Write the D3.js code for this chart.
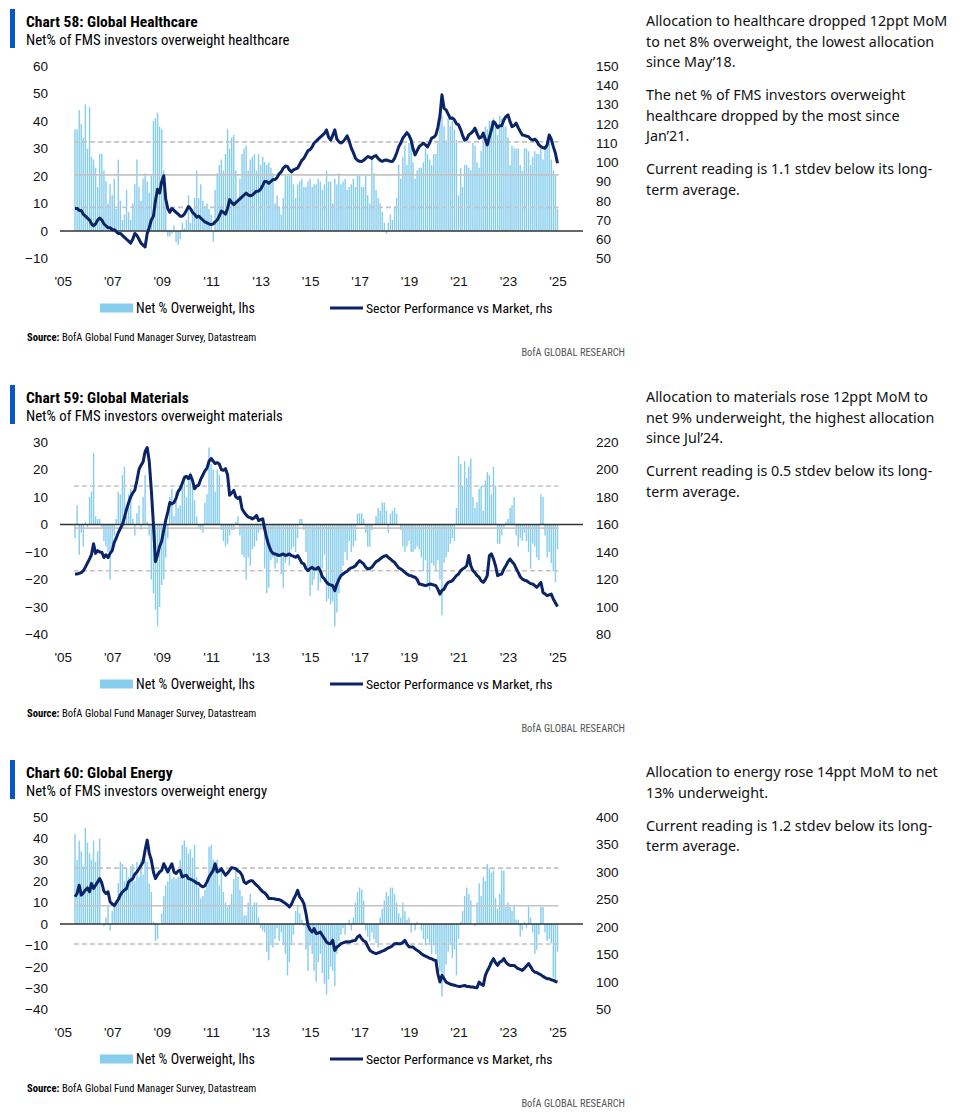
<!DOCTYPE html>
<html>
<head>
<meta charset="utf-8">
<title>FMS sector allocation</title>
<script src="https://cdn.jsdelivr.net/npm/d3@7"></script>
<style>
  body { margin: 0; background: #fff; }
</style>
</head>
<body>
<div id="charts"></div>
<script>
(function(){
  'use strict';

  // one value per month, Jul 2005 .. Jan 2025
  var firstMonth = new Date(2005, 6, 1);
  var yearTicks = [2005, 2007, 2009, 2011, 2013, 2015, 2017, 2019, 2021, 2023, 2025];

  // ---- Chart 58: healthcare
  var hcNet = [
    37, 37, 44, 39, 34, 46,
    30, 45, 27, 26, 23, 16, 28, 28, 22, 18, 10, 17,
    13, 19, 8, 26, 11, 4, 6, 15, 7, 4, 10, 17,
    26, 16, 11, 19, 21, 18, 14, 20, 40, 41, 43, 38,
    37, 22, 10, -2, -2, -1, 2, -4, -5, -3, 3, 1,
    4, 13, 3, 8, 12, 22, 12, 17, 11, 9, 10, 8,
    6, -4, 15, 21, 24, 26, 22, 28, 37, 30, 34, 35,
    22, 12, 19, 28, 30, 31, 22, 26, 27, 28, 22, 28,
    24, 27, 25, 24, 25, 23, 21, 10, 13, 9, 6, 12,
    20, 20, 20, 21, 17, 12, 17, 18, 19, 16, 16, 18,
    19, 16, 17, 17, 19, 18, 15, 17, 22, 18, 18, 10,
    19, 17, 21, 17, 18, 19, 15, 16, 17, 19, 16, 20,
    20, 16, 16, 20, 13, 10, 26, 21, 15, 12, 10, 7,
    3, -1, 3, 6, 4, 9, 12, 24, 19, 27, 31, 24,
    32, 33, 25, 19, 22, 23, 23, 25, 30, 28, 26, 24,
    28, 28, 33, 42, 42, 38, 33, 41, 38, 40, 37, 33,
    13, 23, 16, 24, 24, 23, 22, 32, 31, 25, 23, 29,
    36, 38, 37, 40, 40, 41, 40, 35, 42, 41, 38, 38,
    34, 24, 31, 30, 30, 30, 24, 22, 30, 30, 29, 24,
    27, 29, 28, 28, 31, 26, 30, 31, 32, 26, 22, 20,
    8
  ];
  var hcPerf = [
    76, 76, 75, 75, 73, 72, 71, 70, 68, 67, 68, 70,
    71, 70, 68, 67, 66, 66, 65, 65, 64, 63, 63, 62,
    61, 60, 59, 58, 60, 63, 62, 60, 58, 57, 56, 63,
    66, 70, 72, 80, 86, 84, 90, 93, 81, 76, 74, 76,
    75, 74, 73, 72, 72, 73, 75, 77, 76, 74, 73, 71.5,
    72, 71, 70, 69, 68.5, 68, 67.6, 68, 69, 70, 72, 74.7,
    74, 73, 76, 80.6, 79, 78, 79, 80, 81, 82, 83, 84,
    83, 82.6, 83, 84, 85, 85, 86, 88, 90, 90, 89, 90,
    91, 91, 92, 94, 95, 97, 98, 97.8, 96, 95, 96, 96.5,
    97, 99, 101, 102, 104, 106, 106.5, 108, 110, 111, 112, 113,
    114, 115, 116.8, 113, 111.5, 114, 116.8, 112, 110.7, 110, 110.7, 112,
    113.7, 111, 107.3, 105, 102.1, 101, 100.5, 100.4, 101, 102, 103, 102.5,
    102, 103, 103.5, 102, 101, 100.5, 101, 101.2, 100.8, 100.5, 100.4, 102,
    104.7, 108, 110, 112.5, 114, 115.4, 114, 111.5, 107, 103.8, 106, 108.2,
    109, 109.9, 109, 108, 110, 112.5, 113, 114.2, 118, 124, 135, 128,
    127.2, 125, 122.8, 123, 122, 120, 119.4, 117, 114, 111.5, 112, 114.2,
    115, 116, 117.7, 115, 112.5, 113, 115.1, 112, 109, 113, 116.8, 121.1,
    120, 118, 119, 119, 122, 123.7, 124.6, 121, 118.5, 119, 120.3, 118,
    116, 114.2, 114, 113.5, 113.3, 112, 111.5, 112, 111, 109, 108.2, 107.5,
    107.3, 109, 114.2, 112, 108, 104.7, 99.5
  ];
  var hcLeftTicks = [-10, 0, 10, 20, 30, 40, 50, 60];
  var hcRightTicks = [50, 60, 70, 80, 90, 100, 110, 120, 130, 140, 150];
  var hcBands = [8.6, 20.4, 32.4]; // -1 sd, average, +1 sd
  var hcNotes = [
    ['Allocation to healthcare dropped 12ppt MoM', 'to net 8% overweight, the lowest allocation', 'since May\u201918.'],
    ['The net % of FMS investors overweight', 'healthcare dropped by the most since', 'Jan\u201921.'],
    ['Current reading is 1.1 stdev below its long-', 'term average.']
  ];

  // ---- Chart 59: materials
  var mtNet = [
    -5, 7, -11, -3, -8, 1,
    -1, 10, 12, 26, 3, 2, 2, -1, -6, -8, -10, -20,
    -10, -4, 2, 12, 11, 18, 21, 3, 11, 13, 2, -4,
    4, 7, -2, 10, 18, 1, -4, -20, -25, -31, -37, -30,
    -22, -20, -12, -5, 10, 13, 3, 12, 6, 7, 14, 18,
    10, 16, 19, 14, 9, 3, -1, -2, -3, 8, 11, 28,
    22, 20, 12, 20, 18, -2, -6, -8, -7, -4, -2, -2,
    1, 3, -4, -11, -12, -20, -12, -15, -9, -8, -6, -3,
    -2, -1, -16, -25, -23, -13, -12, -16, -14, -11, -18, -23,
    -14, -12, -15, -9, -8, -10, -5, 2, 2, -2, -10, -17,
    -26, -22, -20, -16, -24, -21, -16, -11, -28, -27, -29, -28,
    -37, -32, -25, -19, -15, -10, -13, -6, -10, -8, -6, 4,
    4, 4, 2, -3, -8, -8, -2, 0, 3, 6, 5, 8,
    8, 5, -3, 4, 5, 6, 4, 0, -2, -8, -10, -8,
    -6, -10, -10, -9, -8, -9, -12, -17, -13, -22, -24, -14,
    -15, -17, -13, -20, -33, -14, -12, -10, -7, -5, -6, 6,
    25, 22, 14, 23, 17, 21, 24, 10, 6, 8, 13, 14,
    5, 16, 19, 18, 11, 21, 14, -7, -7, -4, -1, 1,
    2, 6, 7, 10, -4, -8, -5, -6, -3, -6, -10, -16,
    -7, -8, -12, -13, 11, 10, -4, -12, -10, -14, -17, -21,
    -9
  ];
  var mtPerf = [
    124, 124, 124.5, 125, 126.4, 129, 132, 135, 138, 146, 139, 141,
    140, 139.8, 136, 138, 136, 139, 141, 147, 150, 154, 157, 160,
    165, 171, 176, 180, 183, 185, 192, 200, 203, 205.5, 213, 216,
    206, 185, 160, 133, 138, 144, 148, 156, 163, 169, 176, 175,
    176, 179, 184, 186, 190, 194, 195, 193.3, 196, 192, 186, 188,
    188.5, 193, 196, 199, 201, 206, 208, 206, 204.3, 205, 204, 200,
    199.4, 200.6, 196, 181.2, 183, 184.8, 180, 179, 180, 171.4, 169, 167,
    165.4, 165, 164.1, 165, 166.6, 162.9, 163.5, 164.1, 156.8, 150, 145, 141,
    139, 138.6, 138, 137.4, 138, 138.6, 137.4, 138, 138.6, 137.4, 137, 136.2,
    137.4, 135, 132, 131.3, 128, 126.4, 128, 128.9, 127.6, 127.6, 128.9, 126.4,
    122, 120.3, 118, 116.7, 116, 115.5, 111.8, 116.7, 120, 122.8, 124, 125.2,
    126, 127.6, 128.5, 129, 130, 132, 133.7, 132.5, 131.3, 129, 127.6, 128,
    128.9, 131, 133, 133.7, 135, 136.2, 137, 137.4, 136, 134.9, 133.5, 132.5,
    130.5, 128.5, 127.6, 126.5, 125.2, 124, 123, 122.8, 122, 121.6, 120, 116.7,
    116.5, 116, 115.5, 116, 116.7, 116.5, 116, 115.5, 113, 109.4, 112, 113,
    116, 117.9, 118.5, 119.1, 121, 122.8, 124, 126.4, 127.6, 128.5, 130, 137.4,
    130, 126.4, 125, 122.8, 121.6, 119, 117.9, 120, 122.8, 137.4, 138.6, 134.9,
    130, 122.8, 123.5, 124, 127.6, 130, 133, 134.9, 133, 131.3, 128, 125.2,
    122, 120.3, 119.5, 119.1, 118, 117, 116.7, 115.5, 114.3, 116, 117.9, 110.6,
    109.5, 108.2, 108.8, 109.4, 105.7, 103, 100.4
  ];
  var mtLeftTicks = [-40, -30, -20, -10, 0, 10, 20, 30];
  var mtRightTicks = [80, 100, 120, 140, 160, 180, 200, 220];
  var mtBands = [-16.8, -1.3, 14];
  var mtNotes = [
    ['Allocation to materials rose 12ppt MoM to', 'net 9% underweight, the highest allocation', 'since Jul\u201924.'],
    ['Current reading is 0.5 stdev below its long-', 'term average.']
  ];

  // ---- Chart 60: energy
  var enNet = [
    42, 30, 39, 34, 27, 45,
    38, 33, 30, 39, 29, 34, 40, 0, -1, 3, 9, -3,
    6, 10, 11, 19, 29, 28, 20, 26, 22, 27, 28, 20,
    29, 22, 30, 23, 30, 29, 19, 15, 1, -8, -7, 0,
    5, 13, 18, 20, 24, 21, 22, 21, 22, 30, 37, 39,
    36, 33, 35, 31, 37, 22, 17, 12, 13, 16, 18, 36,
    37, 30, 26, 30, 18, 25, 15, 10, 8, 9, 14, 21,
    26, 22, 16, 13, 4, 4, 10, 14, 8, 10, 10, 3,
    -2, -3, -4, -13, -17, -10, -11, -7, -2, -8, -4, -10,
    -14, -24, -18, -10, -5, 6, 9, 5, 2, -1, -12, -22,
    -10, -14, -22, -27, -18, -14, -23, -28, -33, -26, -20, -22,
    -29, -14, -8, -5, -2, -5, 0, 2, -3, 3, 10, 15,
    17, 16, 11, -3, -6, -8, -4, -7, -9, -11, 3, 7,
    11, 15, 13, 17, 17, 14, 10, 5, 3, 10, 6, 2,
    3, -4, 0, -3, 1, 0, -3, -7, -10, -7, -9, -14,
    -10, -14, -18, -22, -34, -25, -19, -13, -10, -16, -12, -24,
    -7, 1, 6, 13, 17, 14, 11, 0, -1, 10, 19, 13,
    22, 20, 28, 26, 24, 25, 12, 7, 14, 25, 25, 8,
    10, 8, 6, 9, 2, 2, -6, -3, 1, -2, 8, 3,
    -4, -14, -12, -5, 8, 8, -4, -8, -7, -9, -25, -27,
    -13
  ];
  var enPerf = [
    255, 261, 276, 258, 262, 267, 271, 264, 279, 270, 276, 282,
    288, 280, 265, 261, 264, 246, 242, 239, 244, 250, 258, 264,
    267, 270, 282, 285, 288, 296, 300, 306, 312, 318, 340, 358,
    334, 322, 300, 288, 295, 300, 303, 315, 308, 300, 308, 315,
    300, 297, 302, 303, 291, 293, 294, 288, 287, 285, 283, 280,
    279, 275, 273, 275, 282, 291, 297, 303, 315, 300, 302, 306,
    300, 294, 298, 303, 308, 307, 306, 302, 300, 294, 282, 279,
    282, 284, 284, 280, 276, 273, 268, 264, 262, 258, 252, 252,
    251.6, 251, 250, 249.8, 248, 245.5, 243, 240, 236.4, 241.3, 250, 257.6,
    266.7, 254.6, 250, 242.5, 225, 203, 195, 190.9, 197, 188, 189, 190.9,
    185, 178.8, 172.7, 170, 169.7, 175.7, 157.5, 163.6, 166, 169.7, 171, 172.7,
    173, 172.7, 174, 175, 175.7, 182, 184.8, 178.8, 175, 172.7, 165, 157.5,
    155, 153, 151.5, 153, 154.5, 156, 157.5, 160, 162, 163.6, 166, 169.7,
    170, 169.7, 169.7, 172, 175.7, 169, 164, 163.6, 163.6, 160, 157.5, 155,
    151.5, 149, 147, 145.4, 143, 142.4, 140, 139.3, 115, 100, 112, 106,
    99.9, 98, 96, 95, 94, 93, 92, 92, 93, 93.8, 92, 92,
    91, 90.8, 90, 89.6, 99.9, 96, 93.8, 112, 120, 127.2, 136, 142.4,
    135, 130.2, 136.3, 138, 142.4, 136, 132, 130.2, 130, 130.2, 127, 124.2,
    123, 121.1, 125, 129, 133.3, 128, 121.1, 118, 117, 115, 113, 110.2,
    108, 106, 105.9, 104, 102.9, 101, 99.9
  ];
  var enLeftTicks = [-40, -30, -20, -10, 0, 10, 20, 30, 40, 50];
  var enRightTicks = [50, 100, 150, 200, 250, 300, 350, 400];
  var enBands = [-9.4, 8.5, 26.1];
  var enNotes = [
    ['Allocation to energy rose 14ppt MoM to net', '13% underweight.'],
    ['Current reading is 1.2 stdev below its long-', 'term average.']
  ];

  var panels = [
    { top: 0, title: 'Chart 58: Global Healthcare', sub: 'Net% of FMS investors overweight healthcare',
      net: hcNet, perf: hcPerf, left: hcLeftTicks, right: hcRightTicks, bands: hcBands, notes: hcNotes },
    { top: 376, title: 'Chart 59: Global Materials', sub: 'Net% of FMS investors overweight materials',
      net: mtNet, perf: mtPerf, left: mtLeftTicks, right: mtRightTicks, bands: mtBands, notes: mtNotes },
    { top: 751, title: 'Chart 60: Global Energy', sub: 'Net% of FMS investors overweight energy',
      net: enNet, perf: enPerf, left: enLeftTicks, right: enRightTicks, bands: enBands, notes: enNotes }
  ];

  var narrow = '"Liberation Sans Narrow", "Arial Narrow", "Roboto Condensed", "DejaVu Sans Condensed", Roboto, sans-serif';
  var plain = '"Liberation Sans", Arial, sans-serif';
  var body = '"Noto Sans", "Open Sans", sans-serif';

  var barColor = '#86cdee';
  var lineColor = '#0b2468';
  var bandColor = '#c4c4c4';

  var svg = d3.select('#charts').append('svg')
    .attr('width', 978)
    .attr('height', 1116)
    .style('display', 'block');

  var plotTop = 66, plotBottom = 258.5;

  panels.forEach(function(p){
    var g = svg.append('g').attr('transform', 'translate(0,' + p.top + ')');

    var months = p.net.map(function(d, i){ return d3.timeMonth.offset(firstMonth, i); });
    var x = d3.scaleTime()
      .domain([firstMonth, months[months.length - 1]])
      .range([75, 557.5]);
    var yL = d3.scaleLinear()
      .domain([p.left[0], p.left[p.left.length - 1]])
      .range([plotBottom, plotTop]);
    var yR = d3.scaleLinear()
      .domain([p.right[0], p.right[p.right.length - 1]])
      .range([plotBottom, plotTop]);

    // title block
    g.append('rect').attr('x', 10).attr('y', 9).attr('width', 5).attr('height', 39).attr('fill', '#0a55c8');
    g.append('text').attr('x', 26).attr('y', 27)
      .style('font-family', narrow).style('font-size', '15.5px').style('font-weight', 'bold')
      .text(p.title);
    g.append('text').attr('x', 26).attr('y', 45)
      .style('font-family', narrow).style('font-size', '14.8px')
      .text(p.sub);

    // bars
    g.append('g').selectAll('rect')
      .data(p.net).enter()
      .append('rect')
      .attr('x', function(d, i){ return x(months[i]) - 0.7; })
      .attr('width', 1.4)
      .attr('y', function(d){ return Math.min(yL(d), yL(0)); })
      .attr('height', function(d){ return Math.abs(yL(d) - yL(0)); })
      .attr('fill', barColor);

    // average and +/- 1 stdev
    var x0 = x(months[0]) - 1, x1 = x(months[months.length - 1]) + 1;
    g.append('g').selectAll('line')
      .data(p.bands).enter()
      .append('line')
      .attr('x1', x0).attr('x2', x1)
      .attr('y1', function(d){ return yL(d); })
      .attr('y2', function(d){ return yL(d); })
      .attr('stroke', bandColor)
      .attr('stroke-width', 1.6)
      .attr('stroke-dasharray', function(d, i){ return i === 1 ? null : '5,3'; });

    // zero line
    g.append('line')
      .attr('x1', 60).attr('x2', 583)
      .attr('y1', yL(0)).attr('y2', yL(0))
      .attr('stroke', '#333').attr('stroke-width', 1.4);

    // sector performance
    var line = d3.line()
      .x(function(d, i){ return x(months[i]); })
      .y(function(d){ return yR(d); });
    g.append('path')
      .datum(p.perf)
      .attr('d', line)
      .attr('fill', 'none')
      .attr('stroke', lineColor)
      .attr('stroke-width', 3)
      .attr('stroke-linejoin', 'round');

    // axes
    var axL = g.append('g').attr('transform', 'translate(48,0)')
      .call(d3.axisLeft(yL).tickValues(p.left).tickSize(0).tickPadding(0));
    var axR = g.append('g').attr('transform', 'translate(596,0)')
      .call(d3.axisRight(yR).tickValues(p.right).tickSize(0).tickPadding(0));
    var axB = g.append('g').attr('transform', 'translate(0,276)')
      .call(d3.axisBottom(x)
        .tickValues(yearTicks.map(function(y){ return new Date(y, 0, 1); }))
        .tickFormat(function(d){ return "'" + String(d.getFullYear()).slice(2); })
        .tickSize(0).tickPadding(0));
    [axL, axR, axB].forEach(function(a){
      a.select('.domain').remove();
      a.attr('font-family', plain).attr('font-size', 13.5);
      a.selectAll('text').attr('fill', '#111');
    });

    // legend
    g.append('rect').attr('x', 100).attr('y', 303.5).attr('width', 33).attr('height', 9).attr('fill', barColor);
    g.append('text').attr('x', 136).attr('y', 313)
      .style('font-family', narrow).style('font-size', '14px')
      .text('Net % Overweight, lhs');
    g.append('line').attr('x1', 330).attr('x2', 363).attr('y1', 308).attr('y2', 308)
      .attr('stroke', lineColor).attr('stroke-width', 3);
    g.append('text').attr('x', 366).attr('y', 313)
      .style('font-family', narrow).style('font-size', '13.7px')
      .text('Sector Performance vs Market, rhs');

    // source and brand
    var src = g.append('text').attr('x', 27).attr('y', 341)
      .style('font-family', narrow).style('font-size', '10.6px');
    src.append('tspan').style('font-weight', 'bold').text('Source:');
    src.append('tspan').text(' BofA Global Fund Manager Survey, Datastream');
    g.append('text').attr('x', 625).attr('y', 356).attr('text-anchor', 'end')
      .style('font-family', narrow).style('font-size', '10.4px').attr('fill', '#555')
      .text('BofA GLOBAL RESEARCH');

    // commentary on the right
    var yy = 26;
    p.notes.forEach(function(para){
      para.forEach(function(txt){
        g.append('text').attr('x', 646).attr('y', yy)
          .style('font-family', body).style('font-size', '14.3px')
          .attr('fill', '#111')
          .text(txt);
        yy += 20.5;
      });
      yy += 12.5;
    });
  });

})();
</script>
</body>
</html>
